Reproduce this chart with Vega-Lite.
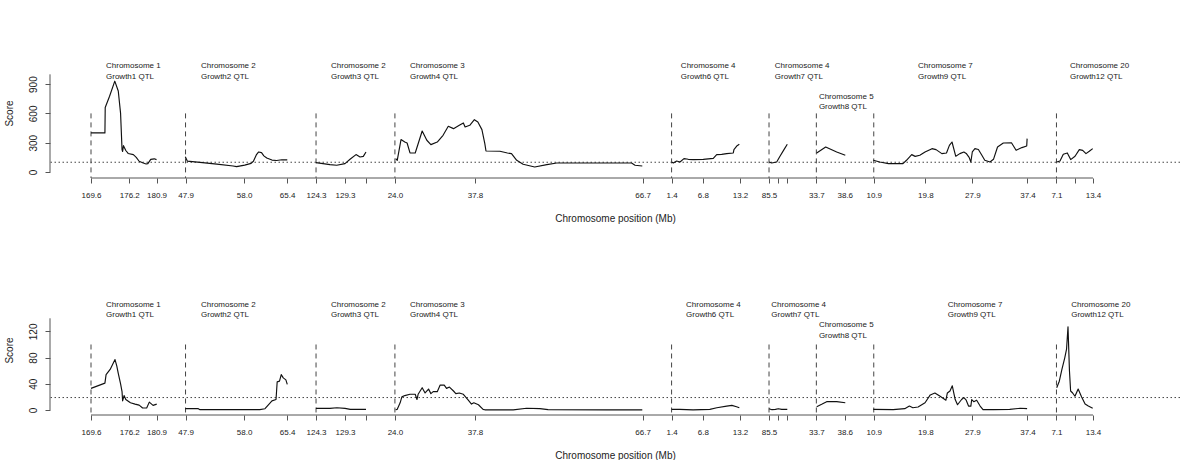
{
  "$schema": "https://vega.github.io/schema/vega-lite/v6.json",
  "background": "white",
  "padding": {"left": 4, "top": 48, "right": 0, "bottom": 0},
  "spacing": 62,
  "datasets": {
    "vlines": [{"pos": 0}, {"pos": 16.3}, {"pos": 38.8}, {"pos": 52.4}, {"pos": 100.1}, {"pos": 116.9}, {"pos": 125.06}, {"pos": 134.96}, {"pos": 166.46}],
    "curves": [
      {"p":"t","s":"c1","pos":0,"score":400},{"p":"t","s":"c1","pos":2.4,"score":400},{"p":"t","s":"c1","pos":2.45,"score":660},{"p":"t","s":"c1","pos":3.2,"score":775},{"p":"t","s":"c1","pos":4.1,"score":930},{"p":"t","s":"c1","pos":4.7,"score":830},{"p":"t","s":"c1","pos":5.1,"score":600},{"p":"t","s":"c1","pos":5.35,"score":230},{"p":"t","s":"c1","pos":5.45,"score":210},{"p":"t","s":"c1","pos":5.6,"score":270},{"p":"t","s":"c1","pos":6.0,"score":220},{"p":"t","s":"c1","pos":6.4,"score":190},{"p":"t","s":"c1","pos":7.3,"score":178},{"p":"t","s":"c1","pos":7.8,"score":150},{"p":"t","s":"c1","pos":8.3,"score":110},{"p":"t","s":"c1","pos":9.0,"score":92},{"p":"t","s":"c1","pos":9.5,"score":82},{"p":"t","s":"c1","pos":9.8,"score":86},{"p":"t","s":"c1","pos":10.3,"score":130},{"p":"t","s":"c1","pos":10.9,"score":135},{"p":"t","s":"c1","pos":11.3,"score":127},
      {"p":"t","s":"c2a","pos":16.26,"score":155},{"p":"t","s":"c2a","pos":16.6,"score":112},{"p":"t","s":"c2a","pos":18.8,"score":98},{"p":"t","s":"c2a","pos":21.7,"score":80},{"p":"t","s":"c2a","pos":24.5,"score":62},{"p":"t","s":"c2a","pos":25.1,"score":55},{"p":"t","s":"c2a","pos":26.5,"score":70},{"p":"t","s":"c2a","pos":27.6,"score":88},{"p":"t","s":"c2a","pos":28.0,"score":110},{"p":"t","s":"c2a","pos":28.5,"score":175},{"p":"t","s":"c2a","pos":28.9,"score":205},{"p":"t","s":"c2a","pos":29.4,"score":198},{"p":"t","s":"c2a","pos":29.8,"score":165},{"p":"t","s":"c2a","pos":30.3,"score":143},{"p":"t","s":"c2a","pos":31.2,"score":122},{"p":"t","s":"c2a","pos":32.0,"score":118},{"p":"t","s":"c2a","pos":32.9,"score":125},{"p":"t","s":"c2a","pos":33.84,"score":124},
      {"p":"t","s":"c2b","pos":38.79,"score":96},{"p":"t","s":"c2b","pos":41.2,"score":76},{"p":"t","s":"c2b","pos":42.36,"score":69},{"p":"t","s":"c2b","pos":43.79,"score":86},{"p":"t","s":"c2b","pos":44.66,"score":130},{"p":"t","s":"c2b","pos":45.69,"score":178},{"p":"t","s":"c2b","pos":46.38,"score":154},{"p":"t","s":"c2b","pos":46.95,"score":160},{"p":"t","s":"c2b","pos":47.41,"score":205},
      {"p":"t","s":"c3","pos":52.53,"score":137},{"p":"t","s":"c3","pos":52.8,"score":120},{"p":"t","s":"c3","pos":53.45,"score":332},{"p":"t","s":"c3","pos":54.1,"score":307},{"p":"t","s":"c3","pos":54.5,"score":297},{"p":"t","s":"c3","pos":55.0,"score":195},{"p":"t","s":"c3","pos":55.9,"score":195},{"p":"t","s":"c3","pos":57.1,"score":420},{"p":"t","s":"c3","pos":57.9,"score":325},{"p":"t","s":"c3","pos":58.6,"score":280},{"p":"t","s":"c3","pos":59.7,"score":307},{"p":"t","s":"c3","pos":60.7,"score":376},{"p":"t","s":"c3","pos":61.6,"score":468},{"p":"t","s":"c3","pos":62.5,"score":444},{"p":"t","s":"c3","pos":63.5,"score":478},{"p":"t","s":"c3","pos":64.2,"score":502},{"p":"t","s":"c3","pos":64.5,"score":461},{"p":"t","s":"c3","pos":65.3,"score":478},{"p":"t","s":"c3","pos":66.1,"score":536},{"p":"t","s":"c3","pos":66.7,"score":512},{"p":"t","s":"c3","pos":67.4,"score":434},{"p":"t","s":"c3","pos":67.9,"score":291},{"p":"t","s":"c3","pos":68.1,"score":215},{"p":"t","s":"c3","pos":70.5,"score":212},{"p":"t","s":"c3","pos":71.8,"score":195},{"p":"t","s":"c3","pos":72.5,"score":188},{"p":"t","s":"c3","pos":73.4,"score":120},{"p":"t","s":"c3","pos":74.5,"score":79},{"p":"t","s":"c3","pos":76.5,"score":51},{"p":"t","s":"c3","pos":78.6,"score":76},{"p":"t","s":"c3","pos":80.3,"score":92},{"p":"t","s":"c3","pos":93.2,"score":92},{"p":"t","s":"c3","pos":93.8,"score":69},{"p":"t","s":"c3","pos":95.05,"score":61},
      {"p":"t","s":"c4a","pos":100.12,"score":102},{"p":"t","s":"c4a","pos":100.4,"score":92},{"p":"t","s":"c4a","pos":100.98,"score":113},{"p":"t","s":"c4a","pos":101.55,"score":102},{"p":"t","s":"c4a","pos":102.24,"score":137},{"p":"t","s":"c4a","pos":102.98,"score":130},{"p":"t","s":"c4a","pos":103.84,"score":127},{"p":"t","s":"c4a","pos":105.57,"score":130},{"p":"t","s":"c4a","pos":107.29,"score":140},{"p":"t","s":"c4a","pos":107.88,"score":178},{"p":"t","s":"c4a","pos":108.74,"score":181},{"p":"t","s":"c4a","pos":109.6,"score":188},{"p":"t","s":"c4a","pos":110.74,"score":195},{"p":"t","s":"c4a","pos":110.85,"score":230},{"p":"t","s":"c4a","pos":111.33,"score":266},{"p":"t","s":"c4a","pos":111.78,"score":284},
      {"p":"t","s":"c4b","pos":116.9,"score":102},{"p":"t","s":"c4b","pos":117.36,"score":92},{"p":"t","s":"c4b","pos":118.22,"score":102},{"p":"t","s":"c4b","pos":118.79,"score":161},{"p":"t","s":"c4b","pos":119.48,"score":229},{"p":"t","s":"c4b","pos":120.05,"score":284},
      {"p":"t","s":"c5","pos":125.12,"score":195},{"p":"t","s":"c5","pos":126.67,"score":256},{"p":"t","s":"c5","pos":128.57,"score":205},{"p":"t","s":"c5","pos":130.05,"score":171},
      {"p":"t","s":"c7","pos":134.88,"score":120},{"p":"t","s":"c7","pos":136.0,"score":102},{"p":"t","s":"c7","pos":137.5,"score":86},{"p":"t","s":"c7","pos":140.0,"score":86},{"p":"t","s":"c7","pos":140.6,"score":120},{"p":"t","s":"c7","pos":141.5,"score":178},{"p":"t","s":"c7","pos":142.1,"score":160},{"p":"t","s":"c7","pos":142.9,"score":171},{"p":"t","s":"c7","pos":143.8,"score":205},{"p":"t","s":"c7","pos":145.0,"score":239},{"p":"t","s":"c7","pos":145.7,"score":229},{"p":"t","s":"c7","pos":146.7,"score":188},{"p":"t","s":"c7","pos":147.5,"score":195},{"p":"t","s":"c7","pos":148.0,"score":273},{"p":"t","s":"c7","pos":148.45,"score":307},{"p":"t","s":"c7","pos":149.1,"score":161},{"p":"t","s":"c7","pos":149.8,"score":188},{"p":"t","s":"c7","pos":150.5,"score":205},{"p":"t","s":"c7","pos":150.9,"score":190},{"p":"t","s":"c7","pos":151.4,"score":150},{"p":"t","s":"c7","pos":151.7,"score":102},{"p":"t","s":"c7","pos":151.95,"score":205},{"p":"t","s":"c7","pos":152.4,"score":239},{"p":"t","s":"c7","pos":153.0,"score":230},{"p":"t","s":"c7","pos":153.6,"score":171},{"p":"t","s":"c7","pos":154.1,"score":120},{"p":"t","s":"c7","pos":155.0,"score":102},{"p":"t","s":"c7","pos":155.6,"score":130},{"p":"t","s":"c7","pos":156.3,"score":256},{"p":"t","s":"c7","pos":157.3,"score":297},{"p":"t","s":"c7","pos":158.7,"score":300},{"p":"t","s":"c7","pos":159.5,"score":222},{"p":"t","s":"c7","pos":160.5,"score":250},{"p":"t","s":"c7","pos":161.33,"score":266},{"p":"t","s":"c7","pos":161.4,"score":342},
      {"p":"t","s":"c20","pos":166.5,"score":102},{"p":"t","s":"c20","pos":167.07,"score":113},{"p":"t","s":"c20","pos":167.64,"score":181},{"p":"t","s":"c20","pos":168.33,"score":195},{"p":"t","s":"c20","pos":168.91,"score":127},{"p":"t","s":"c20","pos":169.66,"score":161},{"p":"t","s":"c20","pos":170.4,"score":229},{"p":"t","s":"c20","pos":170.98,"score":222},{"p":"t","s":"c20","pos":171.55,"score":188},{"p":"t","s":"c20","pos":172.12,"score":212},{"p":"t","s":"c20","pos":172.71,"score":239},
      {"p":"b","s":"c1","pos":0,"score":33},{"p":"b","s":"c1","pos":2.4,"score":41},{"p":"b","s":"c1","pos":2.6,"score":54},{"p":"b","s":"c1","pos":3.3,"score":62},{"p":"b","s":"c1","pos":4.14,"score":77},{"p":"b","s":"c1","pos":4.45,"score":67},{"p":"b","s":"c1","pos":4.7,"score":56},{"p":"b","s":"c1","pos":5.1,"score":40},{"p":"b","s":"c1","pos":5.35,"score":28},{"p":"b","s":"c1","pos":5.45,"score":14},{"p":"b","s":"c1","pos":5.7,"score":22},{"p":"b","s":"c1","pos":6.0,"score":16},{"p":"b","s":"c1","pos":6.8,"score":11},{"p":"b","s":"c1","pos":7.6,"score":9},{"p":"b","s":"c1","pos":8.3,"score":7.5},{"p":"b","s":"c1","pos":8.9,"score":3},{"p":"b","s":"c1","pos":9.6,"score":3},{"p":"b","s":"c1","pos":10.05,"score":12},{"p":"b","s":"c1","pos":10.7,"score":7},{"p":"b","s":"c1","pos":11.33,"score":9},
      {"p":"b","s":"c2a","pos":16.26,"score":2},{"p":"b","s":"c2a","pos":18.5,"score":2},{"p":"b","s":"c2a","pos":18.8,"score":0.5},{"p":"b","s":"c2a","pos":29.1,"score":0.5},{"p":"b","s":"c2a","pos":30.0,"score":2},{"p":"b","s":"c2a","pos":31.2,"score":14},{"p":"b","s":"c2a","pos":31.9,"score":16},{"p":"b","s":"c2a","pos":32.1,"score":43},{"p":"b","s":"c2a","pos":32.5,"score":44},{"p":"b","s":"c2a","pos":32.8,"score":54},{"p":"b","s":"c2a","pos":33.15,"score":49},{"p":"b","s":"c2a","pos":33.6,"score":46},{"p":"b","s":"c2a","pos":33.84,"score":39},
      {"p":"b","s":"c2b","pos":38.79,"score":2.5},{"p":"b","s":"c2b","pos":41.2,"score":2.5},{"p":"b","s":"c2b","pos":42.4,"score":3.5},{"p":"b","s":"c2b","pos":43.8,"score":2.5},{"p":"b","s":"c2b","pos":44.7,"score":1},{"p":"b","s":"c2b","pos":47.41,"score":1},
      {"p":"b","s":"c3","pos":52.53,"score":0.5},{"p":"b","s":"c3","pos":52.8,"score":1},{"p":"b","s":"c3","pos":53.3,"score":11},{"p":"b","s":"c3","pos":53.6,"score":20},{"p":"b","s":"c3","pos":54.1,"score":22},{"p":"b","s":"c3","pos":55.0,"score":24},{"p":"b","s":"c3","pos":55.9,"score":24},{"p":"b","s":"c3","pos":56.2,"score":16},{"p":"b","s":"c3","pos":56.4,"score":24},{"p":"b","s":"c3","pos":57.1,"score":34},{"p":"b","s":"c3","pos":57.6,"score":26},{"p":"b","s":"c3","pos":58.2,"score":32},{"p":"b","s":"c3","pos":58.6,"score":25},{"p":"b","s":"c3","pos":59.0,"score":28},{"p":"b","s":"c3","pos":59.7,"score":28},{"p":"b","s":"c3","pos":60.2,"score":38},{"p":"b","s":"c3","pos":60.9,"score":38},{"p":"b","s":"c3","pos":61.3,"score":33},{"p":"b","s":"c3","pos":61.8,"score":35},{"p":"b","s":"c3","pos":62.5,"score":29},{"p":"b","s":"c3","pos":62.9,"score":25},{"p":"b","s":"c3","pos":63.5,"score":26},{"p":"b","s":"c3","pos":64.2,"score":24},{"p":"b","s":"c3","pos":65.05,"score":15},{"p":"b","s":"c3","pos":65.6,"score":9},{"p":"b","s":"c3","pos":66.0,"score":11},{"p":"b","s":"c3","pos":66.8,"score":8},{"p":"b","s":"c3","pos":67.6,"score":1},{"p":"b","s":"c3","pos":67.9,"score":0.3},{"p":"b","s":"c3","pos":72.8,"score":0.3},{"p":"b","s":"c3","pos":75.1,"score":2.6},{"p":"b","s":"c3","pos":77.4,"score":2},{"p":"b","s":"c3","pos":78.8,"score":0.5},{"p":"b","s":"c3","pos":88.9,"score":0.3},{"p":"b","s":"c3","pos":95.05,"score":0.3},
      {"p":"b","s":"c4a","pos":100.12,"score":1},{"p":"b","s":"c4a","pos":101.5,"score":1},{"p":"b","s":"c4a","pos":103.8,"score":0.3},{"p":"b","s":"c4a","pos":106.7,"score":1},{"p":"b","s":"c4a","pos":107.9,"score":3.5},{"p":"b","s":"c4a","pos":109.6,"score":6},{"p":"b","s":"c4a","pos":110.5,"score":7},{"p":"b","s":"c4a","pos":111.3,"score":5},{"p":"b","s":"c4a","pos":111.78,"score":3.5},
      {"p":"b","s":"c4b","pos":116.9,"score":2},{"p":"b","s":"c4b","pos":117.4,"score":0.5},{"p":"b","s":"c4b","pos":118.0,"score":1},{"p":"b","s":"c4b","pos":118.5,"score":2},{"p":"b","s":"c4b","pos":119.1,"score":1},{"p":"b","s":"c4b","pos":120.05,"score":1},
      {"p":"b","s":"c5","pos":125.12,"score":5},{"p":"b","s":"c5","pos":125.98,"score":8.7},{"p":"b","s":"c5","pos":126.84,"score":12.7},{"p":"b","s":"c5","pos":128.57,"score":12.7},{"p":"b","s":"c5","pos":130.05,"score":11},
      {"p":"b","s":"c7","pos":134.88,"score":1},{"p":"b","s":"c7","pos":138.3,"score":0.5},{"p":"b","s":"c7","pos":140.3,"score":2},{"p":"b","s":"c7","pos":141.1,"score":6},{"p":"b","s":"c7","pos":141.7,"score":3.5},{"p":"b","s":"c7","pos":142.6,"score":4.6},{"p":"b","s":"c7","pos":143.8,"score":11},{"p":"b","s":"c7","pos":144.7,"score":23},{"p":"b","s":"c7","pos":145.5,"score":26},{"p":"b","s":"c7","pos":146.4,"score":21},{"p":"b","s":"c7","pos":147.4,"score":15},{"p":"b","s":"c7","pos":147.65,"score":26},{"p":"b","s":"c7","pos":148.1,"score":29},{"p":"b","s":"c7","pos":148.5,"score":37},{"p":"b","s":"c7","pos":149.0,"score":16},{"p":"b","s":"c7","pos":149.4,"score":8},{"p":"b","s":"c7","pos":150.1,"score":16},{"p":"b","s":"c7","pos":150.5,"score":19},{"p":"b","s":"c7","pos":150.9,"score":15},{"p":"b","s":"c7","pos":151.3,"score":6},{"p":"b","s":"c7","pos":151.7,"score":6},{"p":"b","s":"c7","pos":151.85,"score":16},{"p":"b","s":"c7","pos":152.2,"score":12.7},{"p":"b","s":"c7","pos":152.7,"score":15},{"p":"b","s":"c7","pos":153.3,"score":6},{"p":"b","s":"c7","pos":153.8,"score":0.5},{"p":"b","s":"c7","pos":155.6,"score":0.5},{"p":"b","s":"c7","pos":158.4,"score":1},{"p":"b","s":"c7","pos":160.2,"score":2.6},{"p":"b","s":"c7","pos":161.4,"score":2},
      {"p":"b","s":"c20","pos":166.5,"score":34},{"p":"b","s":"c20","pos":166.95,"score":44},{"p":"b","s":"c20","pos":167.4,"score":62},{"p":"b","s":"c20","pos":167.9,"score":80},{"p":"b","s":"c20","pos":168.2,"score":93},{"p":"b","s":"c20","pos":168.45,"score":127},{"p":"b","s":"c20","pos":168.7,"score":60},{"p":"b","s":"c20","pos":168.9,"score":29},{"p":"b","s":"c20","pos":169.25,"score":26},{"p":"b","s":"c20","pos":169.65,"score":21},{"p":"b","s":"c20","pos":170.2,"score":32},{"p":"b","s":"c20","pos":170.8,"score":20},{"p":"b","s":"c20","pos":171.4,"score":9},{"p":"b","s":"c20","pos":171.95,"score":6},{"p":"b","s":"c20","pos":172.71,"score":2.6}
    ],
    "labels": [
      {"p":"t","pos":2.59,"yv":1082,"txt":"Chromosome 1"},{"p":"t","pos":2.59,"yv":970,"txt":"Growth1 QTL"},
      {"p":"t","pos":18.97,"yv":1082,"txt":"Chromosome 2"},{"p":"t","pos":18.97,"yv":970,"txt":"Growth2 QTL"},
      {"p":"t","pos":41.38,"yv":1082,"txt":"Chromosome 2"},{"p":"t","pos":41.38,"yv":970,"txt":"Growth3 QTL"},
      {"p":"t","pos":55.0,"yv":1082,"txt":"Chromosome 3"},{"p":"t","pos":55.0,"yv":970,"txt":"Growth4 QTL"},
      {"p":"t","pos":101.7,"yv":1082,"txt":"Chromosome 4"},{"p":"t","pos":101.7,"yv":970,"txt":"Growth6 QTL"},
      {"p":"t","pos":117.9,"yv":1082,"txt":"Chromosome 4"},{"p":"t","pos":117.9,"yv":970,"txt":"Growth7 QTL"},
      {"p":"t","pos":125.5,"yv":770,"txt":"Chromosome 5"},{"p":"t","pos":125.5,"yv":662,"txt":"Growth8 QTL"},
      {"p":"t","pos":142.6,"yv":1082,"txt":"Chromosome 7"},{"p":"t","pos":142.6,"yv":970,"txt":"Growth9 QTL"},
      {"p":"t","pos":168.8,"yv":1082,"txt":"Chromosome 20"},{"p":"t","pos":168.8,"yv":970,"txt":"Growth12 QTL"},
      {"p":"b","pos":2.59,"yv":161,"txt":"Chromosome 1"},{"p":"b","pos":2.59,"yv":145,"txt":"Growth1 QTL"},
      {"p":"b","pos":18.97,"yv":161,"txt":"Chromosome 2"},{"p":"b","pos":18.97,"yv":145,"txt":"Growth2 QTL"},
      {"p":"b","pos":41.38,"yv":161,"txt":"Chromosome 2"},{"p":"b","pos":41.38,"yv":145,"txt":"Growth3 QTL"},
      {"p":"b","pos":55.0,"yv":161,"txt":"Chromosome 3"},{"p":"b","pos":55.0,"yv":145,"txt":"Growth4 QTL"},
      {"p":"b","pos":102.6,"yv":161,"txt":"Chromosome 4"},{"p":"b","pos":102.6,"yv":145,"txt":"Growth6 QTL"},
      {"p":"b","pos":117.3,"yv":161,"txt":"Chromosome 4"},{"p":"b","pos":117.3,"yv":145,"txt":"Growth7 QTL"},
      {"p":"b","pos":125.5,"yv":130,"txt":"Chromosome 5"},{"p":"b","pos":125.5,"yv":113,"txt":"Growth8 QTL"},
      {"p":"b","pos":147.7,"yv":161,"txt":"Chromosome 7"},{"p":"b","pos":147.7,"yv":145,"txt":"Growth9 QTL"},
      {"p":"b","pos":169.0,"yv":161,"txt":"Chromosome 20"},{"p":"b","pos":169.0,"yv":145,"txt":"Growth12 QTL"}
    ]
  },
  "vconcat": [
    {
      "width": 1130, "height": 130,
      "layer": [
        {"data": {"name": "vlines"}, "mark": {"type": "rule", "strokeDash": [5, 4], "color": "#444", "strokeWidth": 1},
         "encoding": {
           "x": {"field": "pos", "type": "quantitative", "scale": {"domain": [-7.07, 187.76], "nice": false, "zero": false}, "axis": {"title": "Chromosome position (Mb)", "values": [0,6.6,11.3,16.3,26.4,33.8,38.8,43.8,47.4,52.4,66.2,95.1,100.1,105.5,111.9,116.9,118.5,120.06,125.06,129.96,134.96,143.86,151.96,161.46,166.46,169.66,172.76], "labelExpr": "['169.6','176.2','180.9','47.9','58.0','65.4','124.3','129.3','','24.0','37.8','66.7','1.4','6.8','13.2','85.5','','','33.7','38.6','10.9','19.8','27.9','37.4','7.1','','13.4'][indexof([0,6.6,11.3,16.3,26.4,33.8,38.8,43.8,47.4,52.4,66.2,95.1,100.1,105.5,111.9,116.9,118.5,120.06,125.06,129.96,134.96,143.86,151.96,161.46,166.46,169.66,172.76], datum.value)]", "labelOverlap": false, "labelFlush": false, "labelBound": false}},
           "y": {"datum": 600, "type": "quantitative", "scale": {"domain": [-61.4, 1269.6], "nice": false, "zero": false}, "axis": {"title": "Score", "values": [0, 300, 600, 900]}},
           "y2": {"value": "height"}
         }},
        {"data": {"values": [{}]}, "mark": {"type": "rule", "strokeDash": [1.5, 2.5], "color": "#444", "strokeWidth": 1},
         "encoding": {
           "y": {"datum": 100, "type": "quantitative", "scale": {"domain": [-61.4, 1269.6], "nice": false, "zero": false}, "axis": {"title": "Score", "values": [0, 300, 600, 900]}}
         }},
        {"data": {"values": [{"pos": 0, "pos2": 172.76}]}, "mark": {"type": "rule", "color": "#555", "strokeWidth": 1},
         "encoding": {
           "x": {"field": "pos", "type": "quantitative", "scale": {"domain": [-7.07, 187.76], "nice": false, "zero": false}, "axis": {"title": "Chromosome position (Mb)", "values": [0,6.6,11.3,16.3,26.4,33.8,38.8,43.8,47.4,52.4,66.2,95.1,100.1,105.5,111.9,116.9,118.5,120.06,125.06,129.96,134.96,143.86,151.96,161.46,166.46,169.66,172.76], "labelExpr": "['169.6','176.2','180.9','47.9','58.0','65.4','124.3','129.3','','24.0','37.8','66.7','1.4','6.8','13.2','85.5','','','33.7','38.6','10.9','19.8','27.9','37.4','7.1','','13.4'][indexof([0,6.6,11.3,16.3,26.4,33.8,38.8,43.8,47.4,52.4,66.2,95.1,100.1,105.5,111.9,116.9,118.5,120.06,125.06,129.96,134.96,143.86,151.96,161.46,166.46,169.66,172.76], datum.value)]", "labelOverlap": false, "labelFlush": false, "labelBound": false}},
           "x2": {"field": "pos2"},
           "y": {"value": "height"}
         }},
        {"data": {"values": [{}]}, "mark": {"type": "rule", "color": "#555", "strokeWidth": 1},
         "encoding": {
           "x": {"value": 0},
           "y": {"datum": 0, "type": "quantitative", "scale": {"domain": [-61.4, 1269.6], "nice": false, "zero": false}, "axis": {"title": "Score", "values": [0, 300, 600, 900]}},
           "y2": {"datum": 1000}
         }},
        {"data": {"name": "curves"}, "transform": [{"filter": "datum.p == 't'"}],
         "mark": {"type": "line", "color": "#111", "strokeWidth": 1.15, "strokeJoin": "round"},
         "encoding": {
           "x": {"field": "pos", "type": "quantitative", "scale": {"domain": [-7.07, 187.76], "nice": false, "zero": false}, "axis": {"title": "Chromosome position (Mb)", "values": [0,6.6,11.3,16.3,26.4,33.8,38.8,43.8,47.4,52.4,66.2,95.1,100.1,105.5,111.9,116.9,118.5,120.06,125.06,129.96,134.96,143.86,151.96,161.46,166.46,169.66,172.76], "labelExpr": "['169.6','176.2','180.9','47.9','58.0','65.4','124.3','129.3','','24.0','37.8','66.7','1.4','6.8','13.2','85.5','','','33.7','38.6','10.9','19.8','27.9','37.4','7.1','','13.4'][indexof([0,6.6,11.3,16.3,26.4,33.8,38.8,43.8,47.4,52.4,66.2,95.1,100.1,105.5,111.9,116.9,118.5,120.06,125.06,129.96,134.96,143.86,151.96,161.46,166.46,169.66,172.76], datum.value)]", "labelOverlap": false, "labelFlush": false, "labelBound": false}},
           "y": {"field": "score", "type": "quantitative", "scale": {"domain": [-61.4, 1269.6], "nice": false, "zero": false}, "axis": {"title": "Score", "values": [0, 300, 600, 900]}},
           "detail": {"field": "s"}
         }},
        {"data": {"name": "labels"}, "transform": [{"filter": "datum.p == 't'"}],
         "mark": {"type": "text", "align": "left", "baseline": "middle", "font": "Liberation Sans", "fontSize": 8, "color": "#222"},
         "encoding": {
           "x": {"field": "pos", "type": "quantitative", "scale": {"domain": [-7.07, 187.76], "nice": false, "zero": false}, "axis": {"title": "Chromosome position (Mb)", "values": [0,6.6,11.3,16.3,26.4,33.8,38.8,43.8,47.4,52.4,66.2,95.1,100.1,105.5,111.9,116.9,118.5,120.06,125.06,129.96,134.96,143.86,151.96,161.46,166.46,169.66,172.76], "labelExpr": "['169.6','176.2','180.9','47.9','58.0','65.4','124.3','129.3','','24.0','37.8','66.7','1.4','6.8','13.2','85.5','','','33.7','38.6','10.9','19.8','27.9','37.4','7.1','','13.4'][indexof([0,6.6,11.3,16.3,26.4,33.8,38.8,43.8,47.4,52.4,66.2,95.1,100.1,105.5,111.9,116.9,118.5,120.06,125.06,129.96,134.96,143.86,151.96,161.46,166.46,169.66,172.76], datum.value)]", "labelOverlap": false, "labelFlush": false, "labelBound": false}},
           "y": {"field": "yv", "type": "quantitative", "scale": {"domain": [-61.4, 1269.6], "nice": false, "zero": false}, "axis": {"title": "Score", "values": [0, 300, 600, 900]}},
           "text": {"field": "txt"}
         }}
      ]
    },
    {
      "width": 1130, "height": 130,
      "layer": [
        {"data": {"name": "vlines"}, "mark": {"type": "rule", "strokeDash": [5, 4], "color": "#444", "strokeWidth": 1},
         "encoding": {
           "x": {"field": "pos", "type": "quantitative", "scale": {"domain": [-7.07, 187.76], "nice": false, "zero": false}, "axis": {"title": "Chromosome position (Mb)", "values": [0,6.6,11.3,16.3,26.4,33.8,38.8,43.8,47.4,52.4,66.2,95.1,100.1,105.5,111.9,116.9,118.5,120.06,125.06,129.96,134.96,143.86,151.96,161.46,166.46,169.66,172.76], "labelExpr": "['169.6','176.2','180.9','47.9','58.0','65.4','124.3','129.3','','24.0','37.8','66.7','1.4','6.8','13.2','85.5','','','33.7','38.6','10.9','19.8','27.9','37.4','7.1','','13.4'][indexof([0,6.6,11.3,16.3,26.4,33.8,38.8,43.8,47.4,52.4,66.2,95.1,100.1,105.5,111.9,116.9,118.5,120.06,125.06,129.96,134.96,143.86,151.96,161.46,166.46,169.66,172.76], datum.value)]", "labelOverlap": false, "labelFlush": false, "labelBound": false}},
           "y": {"datum": 100, "type": "quantitative", "scale": {"domain": [-7.63, 190.8], "nice": false, "zero": false}, "axis": {"title": "Score", "values": [0, 40, 80, 120]}},
           "y2": {"value": "height"}
         }},
        {"data": {"values": [{}]}, "mark": {"type": "rule", "strokeDash": [1.5, 2.5], "color": "#444", "strokeWidth": 1},
         "encoding": {
           "y": {"datum": 19, "type": "quantitative", "scale": {"domain": [-7.63, 190.8], "nice": false, "zero": false}, "axis": {"title": "Score", "values": [0, 40, 80, 120]}}
         }},
        {"data": {"values": [{"pos": 0, "pos2": 172.76}]}, "mark": {"type": "rule", "color": "#555", "strokeWidth": 1},
         "encoding": {
           "x": {"field": "pos", "type": "quantitative", "scale": {"domain": [-7.07, 187.76], "nice": false, "zero": false}, "axis": {"title": "Chromosome position (Mb)", "values": [0,6.6,11.3,16.3,26.4,33.8,38.8,43.8,47.4,52.4,66.2,95.1,100.1,105.5,111.9,116.9,118.5,120.06,125.06,129.96,134.96,143.86,151.96,161.46,166.46,169.66,172.76], "labelExpr": "['169.6','176.2','180.9','47.9','58.0','65.4','124.3','129.3','','24.0','37.8','66.7','1.4','6.8','13.2','85.5','','','33.7','38.6','10.9','19.8','27.9','37.4','7.1','','13.4'][indexof([0,6.6,11.3,16.3,26.4,33.8,38.8,43.8,47.4,52.4,66.2,95.1,100.1,105.5,111.9,116.9,118.5,120.06,125.06,129.96,134.96,143.86,151.96,161.46,166.46,169.66,172.76], datum.value)]", "labelOverlap": false, "labelFlush": false, "labelBound": false}},
           "x2": {"field": "pos2"},
           "y": {"value": "height"}
         }},
        {"data": {"values": [{}]}, "mark": {"type": "rule", "color": "#555", "strokeWidth": 1},
         "encoding": {
           "x": {"value": 0},
           "y": {"datum": 0, "type": "quantitative", "scale": {"domain": [-7.63, 190.8], "nice": false, "zero": false}, "axis": {"title": "Score", "values": [0, 40, 80, 120]}},
           "y2": {"datum": 140}
         }},
        {"data": {"name": "curves"}, "transform": [{"filter": "datum.p == 'b'"}],
         "mark": {"type": "line", "color": "#111", "strokeWidth": 1.15, "strokeJoin": "round"},
         "encoding": {
           "x": {"field": "pos", "type": "quantitative", "scale": {"domain": [-7.07, 187.76], "nice": false, "zero": false}, "axis": {"title": "Chromosome position (Mb)", "values": [0,6.6,11.3,16.3,26.4,33.8,38.8,43.8,47.4,52.4,66.2,95.1,100.1,105.5,111.9,116.9,118.5,120.06,125.06,129.96,134.96,143.86,151.96,161.46,166.46,169.66,172.76], "labelExpr": "['169.6','176.2','180.9','47.9','58.0','65.4','124.3','129.3','','24.0','37.8','66.7','1.4','6.8','13.2','85.5','','','33.7','38.6','10.9','19.8','27.9','37.4','7.1','','13.4'][indexof([0,6.6,11.3,16.3,26.4,33.8,38.8,43.8,47.4,52.4,66.2,95.1,100.1,105.5,111.9,116.9,118.5,120.06,125.06,129.96,134.96,143.86,151.96,161.46,166.46,169.66,172.76], datum.value)]", "labelOverlap": false, "labelFlush": false, "labelBound": false}},
           "y": {"field": "score", "type": "quantitative", "scale": {"domain": [-7.63, 190.8], "nice": false, "zero": false}, "axis": {"title": "Score", "values": [0, 40, 80, 120]}},
           "detail": {"field": "s"}
         }},
        {"data": {"name": "labels"}, "transform": [{"filter": "datum.p == 'b'"}],
         "mark": {"type": "text", "align": "left", "baseline": "middle", "font": "Liberation Sans", "fontSize": 8, "color": "#222"},
         "encoding": {
           "x": {"field": "pos", "type": "quantitative", "scale": {"domain": [-7.07, 187.76], "nice": false, "zero": false}, "axis": {"title": "Chromosome position (Mb)", "values": [0,6.6,11.3,16.3,26.4,33.8,38.8,43.8,47.4,52.4,66.2,95.1,100.1,105.5,111.9,116.9,118.5,120.06,125.06,129.96,134.96,143.86,151.96,161.46,166.46,169.66,172.76], "labelExpr": "['169.6','176.2','180.9','47.9','58.0','65.4','124.3','129.3','','24.0','37.8','66.7','1.4','6.8','13.2','85.5','','','33.7','38.6','10.9','19.8','27.9','37.4','7.1','','13.4'][indexof([0,6.6,11.3,16.3,26.4,33.8,38.8,43.8,47.4,52.4,66.2,95.1,100.1,105.5,111.9,116.9,118.5,120.06,125.06,129.96,134.96,143.86,151.96,161.46,166.46,169.66,172.76], datum.value)]", "labelOverlap": false, "labelFlush": false, "labelBound": false}},
           "y": {"field": "yv", "type": "quantitative", "scale": {"domain": [-7.63, 190.8], "nice": false, "zero": false}, "axis": {"title": "Score", "values": [0, 40, 80, 120]}},
           "text": {"field": "txt"}
         }}
      ]
    }
  ],
  "config": {
    "view": {"stroke": null},
    "axis": {"domain": false, "grid": false, "tickColor": "#555", "tickSize": 5, "labelColor": "#222", "titleColor": "#222", "labelFont": "Liberation Sans", "titleFont": "Liberation Sans", "titleFontWeight": "normal"},
    "axisX": {"labelFontSize": 8, "titleFontSize": 10, "labelPadding": 8, "titlePadding": 14},
    "axisY": {"labelFontSize": 10, "labelAngle": -90, "labelAlign": "center", "labelBaseline": "bottom", "labelPadding": 7, "titleFontSize": 10, "titlePadding": 14}
  }
}
